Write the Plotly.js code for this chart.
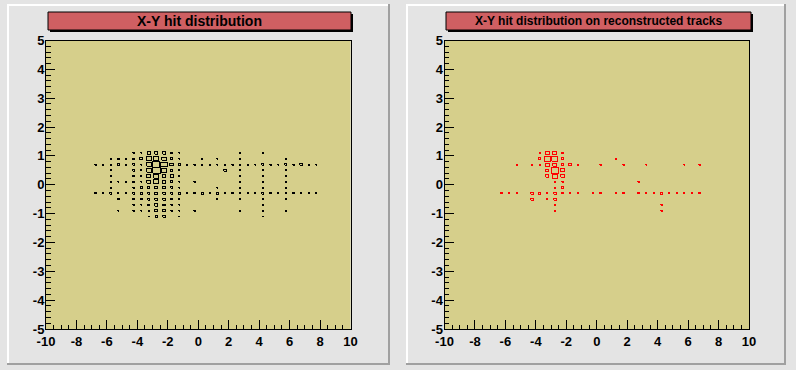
<!DOCTYPE html>
<html>
<head>
<meta charset="utf-8">
<script src="https://cdn.plot.ly/plotly-3.0.1.min.js"></script>
<style>html,body{margin:0;padding:0;background:#e4e4e4;}#chart{width:796px;height:370px;}
#chart .scatterlayer path{shape-rendering:crispEdges;}</style>
</head>
<body>
<div id="chart"></div>
<script>
// ---------- data ----------
const leftTitle = "X-Y hit distribution";
const rightTitle = "X-Y hit distribution on reconstructed tracks";
const xTickVals = [-10, -8, -6, -4, -2, 0, 2, 4, 6, 8, 10];
const yTickVals = [-5, -4, -3, -2, -1, 0, 1, 2, 3, 4, 5];

// all hits: bin centres (x, y) and bin contents
const leftX = [
  -4.25,-3.75,-3.25,-2.75,-2.25,-1.75,-1.25,2.75,4.25,
  -5.75,-5.25,-4.75,-4.25,-3.75,-3.25,-2.75,-2.25,-1.75,-1.25,0.25,1.25,2.75,5.75,
  -6.75,-6.25,-5.75,-5.25,-4.75,-4.25,-3.75,-3.25,-2.75,-2.25,-1.75,-1.25,-0.75,-0.25,0.25,0.75,1.25,1.75,2.25,2.75,3.25,3.75,4.25,4.75,5.25,5.75,6.25,6.75,7.25,7.75,
  -5.75,-4.25,-3.75,-3.25,-2.75,-2.25,-1.75,-1.25,1.75,2.75,4.25,5.75,
  -5.75,-4.25,-3.75,-3.25,-2.75,-2.25,-1.75,-1.25,2.75,4.25,5.75,
  -5.75,-5.25,-4.75,-4.25,-3.75,-3.25,-2.75,-2.25,-1.75,-1.25,-0.25,2.75,4.25,5.75,
  -5.75,-4.25,-3.75,-3.25,-2.75,-2.25,-1.75,-1.25,1.25,2.75,4.25,5.75,
  -6.75,-6.25,-5.75,-5.25,-4.75,-4.25,-3.75,-3.25,-2.75,-2.25,-1.75,-1.25,-0.75,-0.25,0.25,0.75,1.25,1.75,2.25,2.75,3.25,3.75,4.25,4.75,5.25,5.75,6.25,6.75,7.25,7.75,
  -5.25,-4.25,-3.75,-3.25,-2.75,-2.25,-1.75,-1.25,1.25,2.75,4.25,5.75,
  -4.25,-3.75,-3.25,-2.75,-2.25,-1.75,-1.25,4.25,
  -5.25,-4.25,-3.75,-3.25,-2.75,-2.25,-1.75,-1.25,-0.25,2.75,4.25,5.75,
  -3.25,-2.75,-2.25,-1.25,4.25
];
const leftY = [
  1.1,1.1,1.1,1.1,1.1,1.1,1.1,1.1,1.1,
  0.9,0.9,0.9,0.9,0.9,0.9,0.9,0.9,0.9,0.9,0.9,0.9,0.9,0.9,
  0.7,0.7,0.7,0.7,0.7,0.7,0.7,0.7,0.7,0.7,0.7,0.7,0.7,0.7,0.7,0.7,0.7,0.7,0.7,0.7,0.7,0.7,0.7,0.7,0.7,0.7,0.7,0.7,0.7,0.7,
  0.5,0.5,0.5,0.5,0.5,0.5,0.5,0.5,0.5,0.5,0.5,0.5,
  0.3,0.3,0.3,0.3,0.3,0.3,0.3,0.3,0.3,0.3,0.3,
  0.1,0.1,0.1,0.1,0.1,0.1,0.1,0.1,0.1,0.1,0.1,0.1,0.1,0.1,
  -0.1,-0.1,-0.1,-0.1,-0.1,-0.1,-0.1,-0.1,-0.1,-0.1,-0.1,-0.1,
  -0.3,-0.3,-0.3,-0.3,-0.3,-0.3,-0.3,-0.3,-0.3,-0.3,-0.3,-0.3,-0.3,-0.3,-0.3,-0.3,-0.3,-0.3,-0.3,-0.3,-0.3,-0.3,-0.3,-0.3,-0.3,-0.3,-0.3,-0.3,-0.3,-0.3,
  -0.5,-0.5,-0.5,-0.5,-0.5,-0.5,-0.5,-0.5,-0.5,-0.5,-0.5,-0.5,
  -0.7,-0.7,-0.7,-0.7,-0.7,-0.7,-0.7,-0.7,
  -0.9,-0.9,-0.9,-0.9,-0.9,-0.9,-0.9,-0.9,-0.9,-0.9,-0.9,-0.9,
  -1.1,-1.1,-1.1,-1.1,-1.1
];
const leftN = [
  3,3,16,16,16,10,3,3,3,
  3,8,3,8,19,45,49,38,10,3,3,3,3,3,
  3,3,3,8,3,8,3,38,93,77,22,8,3,3,3,3,3,3,3,3,3,3,8,3,3,8,3,8,3,3,
  3,8,3,38,100,49,10,3,10,3,3,3,
  3,8,3,28,49,28,16,3,3,3,3,
  3,3,3,8,3,28,49,28,10,3,3,3,3,3,
  3,3,8,10,19,10,8,3,3,3,3,3,
  3,3,8,3,3,8,8,10,19,10,8,8,3,3,8,3,8,3,3,3,3,3,8,3,3,3,3,3,3,3,
  8,3,8,10,16,10,3,3,3,3,3,3,
  3,3,10,16,10,3,3,3,
  3,3,3,3,16,14,3,3,3,3,3,3,
  3,8,8,3,3
];

// hits on reconstructed tracks
const rightX = [
  -3.75,-3.25,-2.75,-2.25,
  -3.75,-3.25,-2.75,-2.25,1.25,
  -5.25,-4.25,-3.75,-3.25,-2.75,-2.25,-1.75,-1.25,0.25,1.75,3.25,5.75,6.75,
  -3.25,-2.75,-2.25,
  -3.25,-2.75,-2.25,
  -2.75,-2.25,2.75,
  -2.75,-2.25,
  -6.25,-5.75,-5.25,-4.25,-3.75,-3.25,-2.75,-2.25,-1.75,-1.25,-0.25,0.25,1.25,1.75,2.75,3.25,3.75,4.25,4.75,5.25,5.75,6.25,6.75,
  -4.25,-3.25,-2.75,
  -2.75,4.25,
  -2.75,4.25
];
const rightY = [
  1.1,1.1,1.1,1.1,
  0.9,0.9,0.9,0.9,0.9,
  0.7,0.7,0.7,0.7,0.7,0.7,0.7,0.7,0.7,0.7,0.7,0.7,0.7,
  0.5,0.5,0.5,
  0.3,0.3,0.3,
  0.1,0.1,0.1,
  -0.1,-0.1,
  -0.3,-0.3,-0.3,-0.3,-0.3,-0.3,-0.3,-0.3,-0.3,-0.3,-0.3,-0.3,-0.3,-0.3,-0.3,-0.3,-0.3,-0.3,-0.3,-0.3,-0.3,-0.3,-0.3,
  -0.5,-0.5,-0.5,
  -0.7,-0.7,
  -0.9,-0.9
];
const rightN = [
  1,12,9,1,
  4,24,20,4,1,
  1,1,1,9,9,4,4,1,1,1,1,1,1,
  6,31,9,
  6,17,6,
  1,1,1,
  1,3,
  1,1,1,4,4,1,4,1,1,1,1,1,1,1,1,1,1,4,1,1,1,1,1,
  4,1,4,
  1,1,
  1,1
];

// ---------- geometry / style ----------
const W = 796, H = 370;
const BIN_W = 0.5, BIN_H = 0.2, BOX_SCALE = 0.96;
const px = v => v / W;
const py = v => 1 - v / H;
const BG = '#e4e4e4', FRAME = '#d6cf8b', TITLE_BG = '#cf5f62';

function boxTrace(xs, ys, ns, color, xa, ya) {
  const nmax = Math.max(...ns);
  const X = [], Y = [];
  for (let i = 0; i < xs.length; i++) {
    const f = BOX_SCALE * Math.sqrt(ns[i] / nmax);
    const hw = 0.5 * BIN_W * f, hh = 0.5 * BIN_H * f;
    X.push(xs[i]-hw, xs[i]+hw, xs[i]+hw, xs[i]-hw, xs[i]-hw, null);
    Y.push(ys[i]-hh, ys[i]-hh, ys[i]+hh, ys[i]+hh, ys[i]-hh, null);
  }
  return {type:'scatter', mode:'lines', x:X, y:Y, xaxis:xa, yaxis:ya,
          line:{color:color, width:1}, hoverinfo:'skip', connectgaps:false};
}

const tickFont = {family:'Liberation Sans, Arial, sans-serif', size:13, color:'#000', weight:'bold'};
function xAxis(d0, d1, anchor) {
  return {domain:[px(d0), px(d1)], anchor:anchor, range:[-10,10], tickmode:'array', tickvals:xTickVals,
    ticktext:xTickVals.map(String), ticks:'inside', ticklen:9, tickwidth:1, tickcolor:'#000',
    minor:{dtick:0.5, tick0:-10, ticks:'inside', ticklen:4.5, tickcolor:'#000', tickwidth:1, showgrid:false},
    showgrid:false, zeroline:false, showline:true, linecolor:'#000', linewidth:1, mirror:true,
    tickfont:tickFont, ticklabelstandoff:0, fixedrange:true};
}
function yAxis(d0, d1, anchor) {
  return {domain:[py(d1), py(d0)], anchor:anchor, range:[-5,5], tickmode:'array', tickvals:yTickVals,
    ticktext:yTickVals.map(String), ticks:'inside', ticklen:9, tickwidth:1, tickcolor:'#000',
    minor:{dtick:0.2, tick0:-5, ticks:'inside', ticklen:4.5, tickcolor:'#000', tickwidth:1, showgrid:false},
    showgrid:false, zeroline:false, showline:true, linecolor:'#000', linewidth:1, mirror:true,
    tickfont:tickFont, ticklabelstandoff:-2, fixedrange:true};
}

function pad(x0, y0, x1, y1) {
  return [
    {type:'rect', xref:'paper', yref:'paper', layer:'below', x0:px(x0), x1:px(x1), y0:py(y1), y1:py(y0), fillcolor:'#a0a0a0', line:{width:0}},
    {type:'rect', xref:'paper', yref:'paper', layer:'below', x0:px(x0), x1:px(x1-2), y0:py(y1-2), y1:py(y0), fillcolor:'#ffffff', line:{width:0}},
    {type:'rect', xref:'paper', yref:'paper', layer:'below', x0:px(x0+2), x1:px(x1-2), y0:py(y1-2), y1:py(y0+2), fillcolor:BG, line:{width:0}}
  ];
}
function frameFill(x0, y0, x1, y1) {
  return [{type:'rect', xref:'paper', yref:'paper', layer:'below', x0:px(x0), x1:px(x1), y0:py(y1), y1:py(y0), fillcolor:FRAME, line:{width:0}}];
}
function titleBox(x0, y0, x1, y1) {
  return [
    {type:'rect', xref:'paper', yref:'paper', x0:px(x0+2), x1:px(x1+2), y0:py(y1+2), y1:py(y0+2), fillcolor:'#000', line:{width:0}},
    {type:'rect', xref:'paper', yref:'paper', x0:px(x0), x1:px(x1), y0:py(y1), y1:py(y0), fillcolor:TITLE_BG, line:{color:'#000', width:1}}
  ];
}

const data = [
  boxTrace(leftX, leftY, leftN, '#000000', 'x', 'y'),
  boxTrace(rightX, rightY, rightN, '#ff0000', 'x2', 'y2')
];

const layout = {
  width:W, height:H, margin:{l:0, r:0, t:0, b:0}, autosize:false,
  paper_bgcolor:BG, plot_bgcolor:FRAME, showlegend:false, hovermode:false,
  xaxis: xAxis(46, 350.5, 'y'),
  yaxis: yAxis(40.5, 329, 'x'),
  xaxis2: xAxis(444.5, 749, 'y2'),
  yaxis2: yAxis(40.5, 329, 'x2'),
  shapes: [].concat(pad(7,4,390,365), pad(406,4,786,365), frameFill(46,40.5,350.5,329), frameFill(444.5,40.5,749,329),
                    titleBox(48,12,351,30), titleBox(446,12,751,30)),
  annotations: [
    {text:leftTitle, xref:'paper', yref:'paper', x:px(199.5), y:py(21), xanchor:'center', yanchor:'middle', showarrow:false,
     font:{family:'Liberation Sans, Arial, sans-serif', size:14, color:'#000', weight:'bold'}},
    {text:rightTitle, xref:'paper', yref:'paper', x:px(598.5), y:py(21), xanchor:'center', yanchor:'middle', showarrow:false,
     font:{family:'Liberation Sans, Arial, sans-serif', size:12, color:'#000', weight:'bold'}}
  ]
};

Plotly.newPlot('chart', data, layout, {staticPlot:true, displayModeBar:false});
</script>
</body>
</html>
